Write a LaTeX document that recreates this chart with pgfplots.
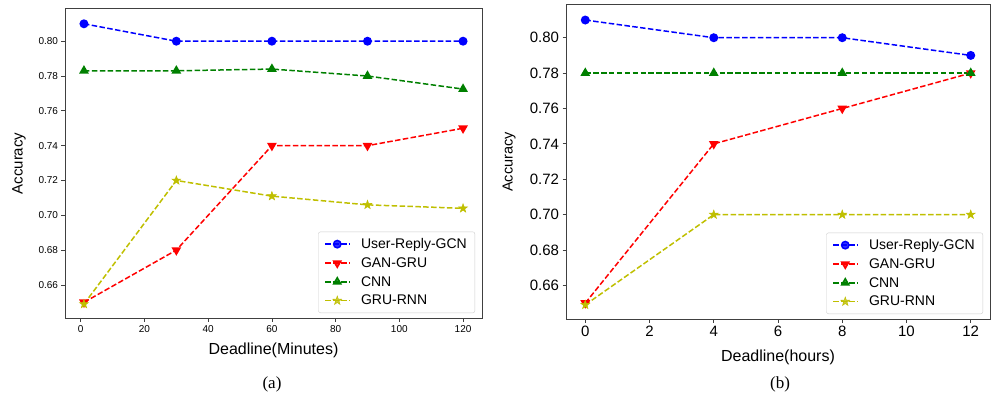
\documentclass[border=0pt]{standalone}
\usepackage{pgfplots}
\pgfplotsset{compat=1.18}
\usepackage{fontspec}
\setmainfont{Liberation Sans}
\newfontfamily\capfont{Liberation Serif}

\definecolor{mplblue}{RGB}{0,0,255}
\definecolor{mplred}{RGB}{255,0,0}
\definecolor{mplgreen}{RGB}{0,128,0}
\definecolor{mplyellow}{RGB}{191,191,0}

\pgfdeclareplotmark{fstar}{%
  \pgfpathmoveto{\pgfpointpolar{90}{\pgfplotmarksize}}%
  \pgfpathlineto{\pgfpointpolar{126}{0.4\pgfplotmarksize}}%
  \pgfpathlineto{\pgfpointpolar{162}{\pgfplotmarksize}}%
  \pgfpathlineto{\pgfpointpolar{198}{0.4\pgfplotmarksize}}%
  \pgfpathlineto{\pgfpointpolar{234}{\pgfplotmarksize}}%
  \pgfpathlineto{\pgfpointpolar{270}{0.4\pgfplotmarksize}}%
  \pgfpathlineto{\pgfpointpolar{306}{\pgfplotmarksize}}%
  \pgfpathlineto{\pgfpointpolar{342}{0.4\pgfplotmarksize}}%
  \pgfpathlineto{\pgfpointpolar{18}{\pgfplotmarksize}}%
  \pgfpathlineto{\pgfpointpolar{54}{0.4\pgfplotmarksize}}%
  \pgfpathclose
  \pgfusepathqfillstroke}

\pgfplotsset{
  myaxis/.style={
    scale only axis,
    anchor=south west,
    axis line style={black!75, line width=1pt},
    tick style={black!75, line width=0.8pt},
    tick align=outside,
    major tick length=3.5pt,
    tick pos=left,
    /pgf/number format/assume math mode=true,
    yticklabel style={/pgf/number format/.cd, fixed, fixed zerofill, precision=2},
    ymin=0.641, ymax=0.8185,
    ytick={0.66,0.68,0.70,0.72,0.74,0.76,0.78,0.80},
    legend cell align=left,
    legend image code/.code={%
      \draw[mark repeat=2,mark phase=2] plot coordinates {(0pt,0pt) (12pt,0pt) (24pt,0pt)};},
    legend style={at={(1,0)}, anchor=south east, xshift=-7pt, yshift=5pt,
      draw=black!20, rounded corners=2pt, fill=white, fill opacity=0.8, text opacity=1,
      draw opacity=1,
      font=\fontsize{14}{16}\selectfont, row sep=3.5pt, inner xsep=6pt, inner ysep=4.5pt,
      /tikz/every odd column/.append style={column sep=9pt}},
  },
  gcn/.style={mplblue, dash pattern=on 5.5pt off 2.4pt, line width=1.5pt, mark=*, mark size=3.7pt, mark options={solid}},
  gan/.style={mplred, dash pattern=on 5.5pt off 2.4pt, line width=1.5pt, mark=triangle*, mark size=4.2pt, mark options={solid, rotate=180}},
  cnn/.style={mplgreen, dash pattern=on 5.5pt off 2.4pt, line width=1.5pt, mark=triangle*, mark size=4.2pt, mark options={solid}},
  gru/.style={mplyellow, dash pattern=on 5.5pt off 2.4pt, line width=1.5pt, mark=fstar, mark size=4.6pt, mark options={solid, line width=0.5pt}},
}

\begin{document}
\begin{tikzpicture}[x=1pt,y=1pt]
\path[use as bounding box] (0,0) rectangle (992,402);

% (a)
\begin{axis}[myaxis,
  at={(65pt,84pt)}, width=417pt, height=309pt,
  xmin=-4.95, xmax=125.95,
  xtick={0,20,40,60,80,100,120},
  tick label style={font=\fontsize{10}{12}\selectfont},
  xlabel={Deadline(Minutes)}, ylabel={Accuracy},
  xlabel style={font=\fontsize{16}{19}\selectfont, at={(axis description cs:0.5,-0.105)}, anchor=center},
  ylabel style={font=\fontsize{15}{18}\selectfont, at={(axis description cs:-0.110,0.5)}, anchor=center},
]
\addplot[gcn] coordinates {(1,0.81) (30,0.80) (60,0.80) (90,0.80) (120,0.80)};
\addlegendentry{User-Reply-GCN}
\addplot[gan] coordinates {(1,0.65) (30,0.68) (60,0.74) (90,0.74) (120,0.75)};
\addlegendentry{GAN-GRU}
\addplot[cnn] coordinates {(1,0.783) (30,0.783) (60,0.784) (90,0.780) (120,0.7725)};
\addlegendentry{CNN}
\addplot[gru] coordinates {(1,0.649) (30,0.72) (60,0.711) (90,0.706) (120,0.704)};
\addlegendentry{GRU-RNN}
\end{axis}

% (b)
\begin{axis}[myaxis,
  at={(566pt,83pt)}, width=424pt, height=314pt,
  xmin=-0.6, xmax=12.6,
  xtick={0,2,4,6,8,10,12},
  tick label style={font=\fontsize{15}{18}\selectfont},
  xlabel={Deadline(hours)}, ylabel={Accuracy},
  xlabel style={font=\fontsize{16}{19}\selectfont, at={(axis description cs:0.5,-0.121)}, anchor=center},
  ylabel style={font=\fontsize{14.5}{17}\selectfont, at={(axis description cs:-0.134,0.5)}, anchor=center},
]
\addplot[gcn] coordinates {(0,0.81) (4,0.80) (8,0.80) (12,0.79)};
\addlegendentry{User-Reply-GCN}
\addplot[gan] coordinates {(0,0.65) (4,0.74) (8,0.76) (12,0.78)};
\addlegendentry{GAN-GRU}
\addplot[cnn] coordinates {(0,0.78) (4,0.78) (8,0.78) (12,0.78)};
\addlegendentry{CNN}
\addplot[gru] coordinates {(0,0.649) (4,0.70) (8,0.70) (12,0.70)};
\addlegendentry{GRU-RNN}
\end{axis}

\node[font=\capfont\fontsize{17}{20}\selectfont] at (272,18) {(a)};
\node[font=\capfont\fontsize{17}{20}\selectfont] at (780,18) {(b)};
\end{tikzpicture}
\end{document}
